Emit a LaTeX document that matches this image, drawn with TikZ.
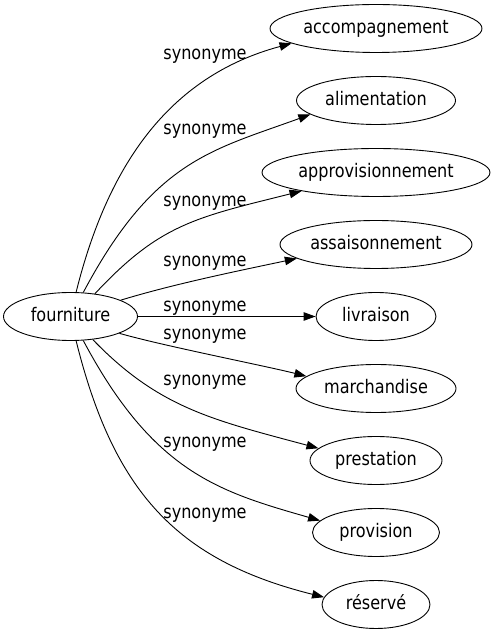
\documentclass[tikz,border=0pt]{standalone}
\usepackage{fontspec}
\setmainfont{DejaVu Sans}[FakeStretch=0.86]
\usetikzlibrary{arrows.meta,shapes.geometric}
\tikzset{
  word/.style={draw, ellipse, line width=0.9pt, minimum height=48pt, inner xsep=0pt, inner ysep=0pt,
    font=\fontsize{18.7pt}{22pt}\selectfont, text height=13.5pt, text depth=4pt},
  syn/.style={-{Triangle[length=12pt,width=8.5pt]}, line width=0.9pt},
  synlabel/.style={inner sep=0pt, font=\fontsize{18.7pt}{22pt}\selectfont, text height=13.5pt, text depth=4pt}
}
\begin{document}
\begin{tikzpicture}[x=1pt,y=1pt]
            \useasboundingbox (0,0) rectangle (495,635);
            % head word
            \node[word, minimum width=134pt] (fourniture) at (70.5,318.5) {fourniture};
            % synonyms
            \node[word, minimum width=212pt] (accompagnement) at (376,606.5) {accompagnement};
            \node[word, minimum width=159pt] (alimentation) at (376,534.5) {alimentation};
            \node[word, minimum width=228pt] (approvisionnement) at (376,462.5) {approvisionnement};
            \node[word, minimum width=192pt] (assaisonnement) at (376,390.5) {assaisonnement};
            \node[word, minimum width=120pt] (livraison) at (376,318.5) {livraison};
            \node[word, minimum width=160pt] (marchandise) at (376,246.5) {marchandise};
            \node[word, minimum width=132pt] (prestation) at (376,174.5) {prestation};
            \node[word, minimum width=127pt] (provision) at (376,102.5) {provision};
            \node[word, minimum width=108pt] (reserve) at (376,30.5) {réservé};
            % labels
            \node[synlabel] (s1) at (205,580) {synonyme};
            \node[synlabel] (s2) at (205,505) {synonyme};
            \node[synlabel] (s3) at (205,433) {synonyme};
            \node[synlabel] (s4) at (205,373) {synonyme};
            \node[synlabel] (s5) at (205,328) {synonyme};
            \node[synlabel] (s6) at (205,300.5) {synonyme};
            \node[synlabel] (s7) at (205,254) {synonyme};
            \node[synlabel] (s8) at (205,192.5) {synonyme};
            \node[synlabel] (s9) at (205,121) {synonyme};
            % edges
            \draw[syn] (fourniture.77) to[out=76,in=195] (accompagnement.190);
            \draw[syn] (fourniture.62) to[out=62,in=200,out distance=150pt,in distance=105pt] (alimentation.192);
            \draw[syn] (fourniture.43) to[out=47,in=194,out distance=95pt,in distance=110pt] (approvisionnement.194);
            \draw[syn] (fourniture.18) to[out=17,in=192,looseness=0.8] (assaisonnement.190);
            \draw[syn] (fourniture.east) -- (livraison.west);
            \draw[syn] (fourniture.-19) to[out=-16,in=166,looseness=0.6] (marchandise.170);
            \draw[syn] (fourniture.-46) to[out=-46,in=165,out distance=95pt,in distance=110pt] (prestation.168);
            \draw[syn] (fourniture.-62) to[out=-62,in=164,out distance=150pt,in distance=105pt] (provision.168);
            \draw[syn] (fourniture.-77) to[out=-76,in=166,looseness=1.1] (reserve.172);
        \end{tikzpicture}
\end{document}
